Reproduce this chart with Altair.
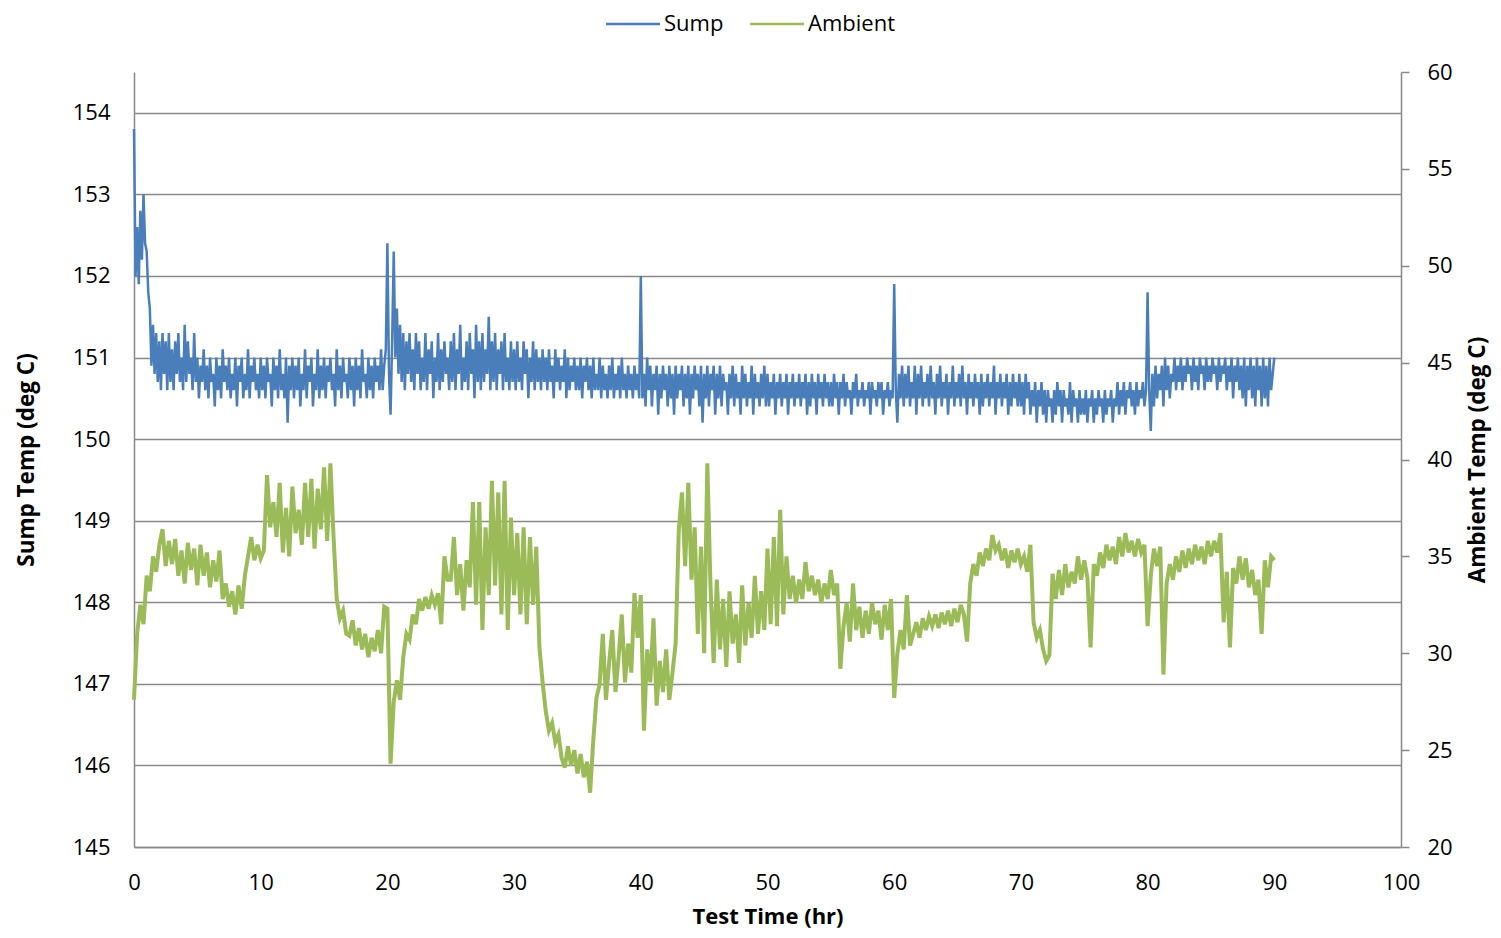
import altair as alt
import pandas as pd

# Sampling steps of the logged data (hours)
SUMP_STEP_HR = 0.125
AMB_STEP_HR = 0.25

# Sump temperature (deg C), one value every 0.125 h from 0 to 90 h
sump = [
    153.8, 152.0, 152.6, 151.9, 152.8, 152.2, 153.0, 152.4, 152.3, 151.8, 151.6, 150.9, 151.4, 150.8, 151.3, 150.7, 151.2, 150.6, 151.3, 150.8,
    151.2, 150.6, 151.3, 150.7, 151.1, 150.6, 151.2, 150.8, 151.3, 150.7, 151.0, 150.6, 151.4, 150.7, 151.2, 150.8, 151.0, 150.6, 151.3, 150.7,
    151.0, 150.5, 150.9, 150.7, 151.1, 150.6, 150.9, 150.5, 151.0, 150.7, 150.8, 150.4, 151.0, 150.6, 150.9, 150.5, 151.1, 150.7, 150.9, 150.6,
    151.0, 150.5, 150.8, 150.6, 151.0, 150.4, 150.9, 150.7, 151.0, 150.5, 150.8, 150.6, 151.1, 150.5, 150.9, 150.7, 151.0, 150.6, 150.8, 150.5,
    151.0, 150.6, 150.9, 150.5, 151.0, 150.7, 150.8, 150.4, 151.0, 150.6, 150.9, 150.5, 151.1, 150.6, 150.8, 150.5, 151.0, 150.2, 150.9, 150.6,
    151.0, 150.5, 150.9, 150.6, 151.0, 150.4, 150.8, 150.6, 151.1, 150.5, 150.9, 150.7, 151.0, 150.4, 150.8, 150.6, 151.1, 150.5, 150.9, 150.6,
    151.0, 150.5, 150.9, 150.7, 151.0, 150.6, 150.8, 150.4, 151.1, 150.6, 150.9, 150.5, 151.0, 150.7, 150.8, 150.5, 151.0, 150.6, 150.9, 150.4,
    151.0, 150.6, 150.9, 150.5, 151.1, 150.7, 150.8, 150.5, 151.0, 150.6, 150.9, 150.5, 151.0, 150.7, 150.9, 150.6, 151.1, 150.6, 150.9, 151.1,
    152.4, 150.8, 150.3, 151.2, 152.3, 151.0, 151.6, 150.8, 151.4, 150.7, 151.3, 150.6, 151.2, 150.8, 151.3, 150.7, 151.1, 150.6, 151.3, 150.8,
    151.2, 150.6, 151.0, 150.7, 151.3, 150.6, 151.1, 150.8, 151.2, 150.5, 151.0, 150.7, 151.3, 150.6, 151.1, 150.7, 151.2, 150.8, 151.0, 150.6,
    151.2, 150.7, 151.3, 150.6, 151.1, 150.8, 151.4, 150.6, 151.0, 150.7, 151.2, 150.6, 151.3, 150.8, 151.1, 150.5, 151.4, 150.7, 151.2, 150.6,
    151.3, 150.7, 151.1, 150.8, 151.5, 150.6, 151.2, 150.7, 151.3, 150.6, 151.1, 150.8, 151.2, 150.6, 151.3, 150.7, 151.0, 150.6, 151.2, 150.7,
    151.1, 150.6, 151.2, 150.7, 151.0, 150.6, 151.2, 150.8, 151.1, 150.5, 151.0, 150.7, 151.2, 150.6, 151.1, 150.7, 151.0, 150.6, 151.1, 150.7,
    151.0, 150.6, 151.1, 150.7, 150.9, 150.5, 151.1, 150.7, 151.0, 150.6, 150.9, 150.7, 151.1, 150.5, 151.0, 150.6, 150.9, 150.7, 151.0, 150.6,
    150.9, 150.6, 151.0, 150.5, 150.9, 150.7, 151.0, 150.6, 150.9, 150.5, 151.0, 150.6, 150.8, 150.6, 151.0, 150.5, 150.9, 150.6, 150.8, 150.5,
    150.9, 150.6, 151.0, 150.5, 150.8, 150.6, 150.9, 150.5, 151.0, 150.6, 150.8, 150.5, 150.9, 150.6, 150.8, 150.5, 150.9, 150.6, 150.8, 150.5,
    152.0, 150.5, 150.8, 150.4, 151.0, 150.6, 150.9, 150.4, 150.8, 150.6, 150.9, 150.3, 150.8, 150.5, 150.9, 150.6, 150.8, 150.4, 150.9, 150.5,
    150.8, 150.3, 150.9, 150.5, 150.8, 150.6, 150.9, 150.4, 150.8, 150.5, 150.9, 150.3, 150.8, 150.5, 150.9, 150.6, 150.8, 150.4, 150.9, 150.2,
    150.8, 150.5, 150.9, 150.4, 150.8, 150.6, 150.9, 150.3, 150.8, 150.5, 150.9, 150.4, 150.8, 150.6, 150.7, 150.3, 150.8, 150.5, 150.9, 150.4,
    150.8, 150.5, 150.7, 150.3, 150.9, 150.5, 150.8, 150.4, 150.7, 150.5, 150.9, 150.3, 150.8, 150.5, 150.7, 150.4, 150.8, 150.5, 150.9, 150.4,
    150.8, 150.4, 150.7, 150.5, 150.8, 150.3, 150.7, 150.5, 150.8, 150.4, 150.7, 150.5, 150.8, 150.3, 150.7, 150.5, 150.8, 150.4, 150.7, 150.5,
    150.8, 150.4, 150.7, 150.5, 150.8, 150.3, 150.7, 150.4, 150.8, 150.5, 150.7, 150.3, 150.8, 150.5, 150.7, 150.4, 150.8, 150.5, 150.7, 150.4,
    150.7, 150.4, 150.8, 150.5, 150.7, 150.3, 150.7, 150.5, 150.8, 150.4, 150.7, 150.5, 150.6, 150.3, 150.7, 150.5, 150.8, 150.4, 150.6, 150.5,
    150.7, 150.4, 150.6, 150.5, 150.7, 150.3, 150.7, 150.5, 150.6, 150.4, 150.7, 150.5, 150.7, 150.3, 150.6, 150.5, 150.7, 150.4, 150.6, 150.5,
    151.9, 150.6, 150.2, 150.8, 150.5, 150.9, 150.4, 150.8, 150.5, 150.9, 150.4, 150.7, 150.5, 150.9, 150.3, 150.8, 150.5, 150.9, 150.4, 150.7,
    150.5, 150.8, 150.4, 150.9, 150.5, 150.7, 150.3, 150.8, 150.5, 150.9, 150.4, 150.7, 150.5, 150.8, 150.3, 150.7, 150.5, 150.9, 150.4, 150.7,
    150.5, 150.8, 150.4, 150.9, 150.5, 150.7, 150.3, 150.8, 150.5, 150.7, 150.4, 150.8, 150.5, 150.7, 150.3, 150.8, 150.4, 150.7, 150.5, 150.8,
    150.4, 150.7, 150.5, 150.9, 150.3, 150.7, 150.5, 150.8, 150.4, 150.7, 150.5, 150.8, 150.3, 150.7, 150.4, 150.8, 150.5, 150.7, 150.4, 150.8,
    150.4, 150.7, 150.3, 150.8, 150.5, 150.7, 150.3, 150.6, 150.4, 150.7, 150.2, 150.6, 150.4, 150.7, 150.3, 150.6, 150.2, 150.6, 150.4, 150.5,
    150.2, 150.6, 150.3, 150.7, 150.4, 150.6, 150.2, 150.6, 150.4, 150.5, 150.3, 150.7, 150.2, 150.6, 150.4, 150.5, 150.2, 150.6, 150.3, 150.5,
    150.3, 150.6, 150.2, 150.5, 150.4, 150.6, 150.2, 150.5, 150.3, 150.6, 150.4, 150.5, 150.2, 150.6, 150.3, 150.5, 150.4, 150.6, 150.2, 150.5,
    150.4, 150.7, 150.3, 150.6, 150.4, 150.7, 150.3, 150.6, 150.5, 150.7, 150.4, 150.6, 150.3, 150.7, 150.4, 150.6, 150.5, 150.7, 150.4, 150.6,
    151.8, 150.6, 150.1, 150.8, 150.4, 150.9, 150.5, 150.8, 150.6, 150.9, 150.4, 151.0, 150.6, 150.9, 150.5, 150.8, 150.7, 151.0, 150.6, 150.9,
    150.7, 151.0, 150.6, 150.9, 150.7, 151.0, 150.8, 150.9, 150.6, 151.0, 150.7, 150.9, 150.6, 151.0, 150.8, 150.9, 150.6, 151.0, 150.7, 150.9,
    150.7, 151.0, 150.8, 150.9, 150.6, 151.0, 150.7, 150.9, 150.8, 151.0, 150.6, 150.9, 150.7, 151.0, 150.5, 150.9, 150.7, 151.0, 150.6, 150.9,
    150.5, 151.0, 150.4, 150.9, 150.6, 151.0, 150.5, 150.9, 150.4, 151.0, 150.6, 150.9, 150.4, 151.0, 150.5, 150.9, 150.4, 151.0, 150.6, 150.8,
    151.0,
]

# Ambient temperature (deg C), one value every 0.25 h from 0 to 90 h
ambient = [
    27.6, 31.0, 32.5, 31.5, 34.0, 33.2, 35.0, 34.2, 35.6, 36.4, 34.5, 35.8, 34.6, 35.9, 34.0, 35.3, 33.6, 35.7, 34.3, 35.4,
    33.5, 35.6, 34.0, 35.2, 33.4, 34.8, 33.7, 35.3, 32.8, 33.6, 32.4, 33.2, 32.0, 33.5, 32.3, 34.0, 35.0, 36.0, 34.8, 35.6,
    34.9, 35.3, 39.2, 36.5, 37.8, 36.0, 38.8, 35.2, 37.5, 35.0, 38.6, 36.2, 37.4, 35.6, 38.8, 36.0, 39.0, 35.4, 38.5, 36.4,
    39.6, 35.8, 39.8, 36.0, 32.8, 31.8, 32.2, 31.0, 30.9, 31.7, 30.4, 31.3, 30.2, 31.0, 29.8, 30.8, 30.1, 31.2, 30.0, 32.4,
    32.3, 24.3, 27.5, 28.6, 27.6, 29.8, 31.0, 30.7, 32.0, 31.5, 32.8, 32.2, 32.9, 32.3, 33.0, 32.5, 33.1, 31.5, 35.0, 33.8,
    33.8, 36.0, 33.0, 34.6, 32.2, 34.8, 33.4, 37.8, 32.5, 37.8, 31.2, 36.5, 33.0, 38.9, 33.5, 38.3, 32.0, 38.9, 31.2, 37.0,
    33.0, 36.2, 32.0, 36.5, 31.5, 36.0, 32.5, 35.5, 30.3, 28.5, 27.0, 26.0, 26.4, 25.4, 25.8, 24.6, 24.1, 25.2, 24.2, 25.0,
    23.8, 24.8, 23.6, 24.4, 22.8, 25.5, 27.7, 28.4, 31.0, 27.6, 29.5, 31.2, 28.0, 29.8, 32.0, 28.5, 30.5, 29.0, 33.1, 30.8,
    33.0, 26.0, 30.2, 28.5, 31.8, 27.3, 29.6, 28.0, 30.2, 27.6, 29.0, 30.5, 36.4, 38.3, 34.5, 38.8, 33.8, 36.5, 31.0, 35.5,
    30.0, 39.8, 33.5, 29.5, 33.8, 30.2, 32.8, 29.3, 33.2, 30.5, 32.0, 29.5, 33.5, 30.4, 32.6, 30.8, 34.0, 31.0, 33.2, 31.2,
    35.4, 31.5, 36.0, 31.4, 37.4, 32.0, 35.0, 32.8, 34.0, 32.6, 33.8, 32.8, 34.7, 33.2, 34.0, 33.0, 33.8, 32.6, 33.6, 32.8,
    34.3, 33.0, 33.6, 29.2, 31.4, 32.6, 30.6, 33.6, 31.2, 32.4, 30.8, 32.2, 31.0, 32.6, 31.5, 32.2, 30.7, 32.5, 31.2, 32.8,
    27.7, 30.0, 31.2, 30.2, 33.0, 30.4, 31.0, 31.6, 30.8, 31.8, 31.2, 31.9, 31.4, 32.0, 31.3, 32.1, 31.5, 32.2, 31.4, 32.3,
    31.6, 32.5, 32.0, 30.6, 33.6, 34.6, 34.0, 35.2, 34.5, 35.4, 34.8, 36.1, 35.3, 35.6, 34.8, 35.4, 34.4, 35.3, 34.7, 35.4,
    34.6, 35.0, 34.2, 35.6, 31.6, 30.8, 31.2, 30.2, 29.6, 29.9, 34.1, 32.8, 34.3, 33.0, 34.6, 33.4, 34.2, 33.6, 35.0, 33.8,
    34.8, 33.9, 30.3, 34.6, 34.0, 35.2, 34.4, 35.6, 34.8, 35.5, 34.6, 36.0, 35.0, 36.2, 35.2, 35.8, 35.0, 35.9, 35.2, 35.6,
    31.4, 34.0, 35.4, 34.5, 35.5, 28.9, 33.6, 34.6, 33.8, 35.0, 34.2, 35.3, 34.4, 35.4, 34.6, 35.6, 34.8, 35.5, 34.6, 35.8,
    35.0, 35.8, 35.2, 36.2, 31.6, 34.2, 30.3, 34.4, 33.6, 35.0, 33.8, 34.9, 33.4, 34.3, 33.0, 33.8, 31.0, 34.8, 33.4, 35.0,
    34.8,
]

SERIES = ["Sump", "Ambient"]
COLORS = ["#4A7EBB", "#9BBB59"]

X_TICKS = [0, 10, 20, 30, 40, 50, 60, 70, 80, 90, 100]
LEFT_TICKS = [145, 146, 147, 148, 149, 150, 151, 152, 153, 154]
RIGHT_TICKS = [20, 25, 30, 35, 40, 45, 50, 55, 60]

sump_df = pd.DataFrame({"t": [i * SUMP_STEP_HR for i in range(len(sump))], "sump": sump})
amb_df = pd.DataFrame({"t": [i * AMB_STEP_HR for i in range(len(ambient))], "ambient": ambient})

FONT = "Open Sans"
GRAY = "#898989"

x_enc = alt.X(
    "t:Q",
    scale=alt.Scale(domain=[0, 100], nice=False),
    axis=alt.Axis(
        values=X_TICKS,
        title="Test Time (hr)",
        titleFontSize=22,
        grid=False,
        ticks=False,
        labelFlush=False,
        domainColor=GRAY,
        domainWidth=1.5,
        labelPadding=25,
        titlePadding=13,
    ),
)

color_scale = alt.Scale(domain=SERIES, range=COLORS)

sump_line = (
    alt.Chart(sump_df)
    .transform_calculate(series="'Sump'")
    .mark_line(strokeWidth=2.5)
    .encode(
        x=x_enc,
        y=alt.Y(
            "sump:Q",
            scale=alt.Scale(domain=[145, 154.5], nice=False, zero=False),
            axis=alt.Axis(
                values=LEFT_TICKS,
                title="Sump Temp (deg C)",
                grid=True,
                gridColor=GRAY,
                gridWidth=1.5,
                ticks=False,
                domainColor=GRAY,
                domainWidth=1.5,
                labelPadding=24,
                titlePadding=34,
            ),
        ),
        color=alt.Color(
            "series:N",
            scale=color_scale,
            sort=SERIES,
            legend=alt.Legend(
                title=None,
                orient="none",
                direction="horizontal",
                legendX=488,
                legendY=-59,
                symbolType="M-4,0H4",
                symbolSize=182,
                symbolStrokeWidth=2.5,
                labelFontSize=22,
                labelFont=FONT,
                labelColor="black",
                labelOffset=20,
                columnPadding=21,
            ),
        ),
    )
)

amb_line = (
    alt.Chart(amb_df)
    .transform_calculate(series="'Ambient'")
    .mark_line(strokeWidth=4)
    .encode(
        x=x_enc,
        y=alt.Y(
            "ambient:Q",
            scale=alt.Scale(domain=[20, 60], nice=False, zero=False),
            axis=alt.Axis(
                orient="right",
                values=RIGHT_TICKS,
                title="Ambient Temp (deg C)",
                titleAngle=270,
                grid=False,
                ticks=True,
                tickSize=8,
                tickColor=GRAY,
                tickWidth=1.5,
                domainColor=GRAY,
                domainWidth=1.5,
                labelPadding=18,
                titlePadding=37,
            ),
        ),
        color=alt.Color("series:N", scale=color_scale, sort=SERIES),
    )
)

chart = (
    alt.layer(sump_line, amb_line)
    .resolve_scale(y="independent")
    .properties(
        width=1267,
        height=775,
        autosize=alt.AutoSizeParams(type="none"),
        padding={"left": 126, "top": 64, "right": 92, "bottom": 83},
    )
    .configure_view(stroke=None)
    .configure_axis(
        labelFont=FONT,
        labelFontSize=22,
        labelColor="black",
        titleFont=FONT,
        titleFontSize=22.5,
        titleFontWeight="bold",
        titleColor="black",
    )
)

chart.save("out.html", embed_options={"renderer": "svg", "actions": False})
